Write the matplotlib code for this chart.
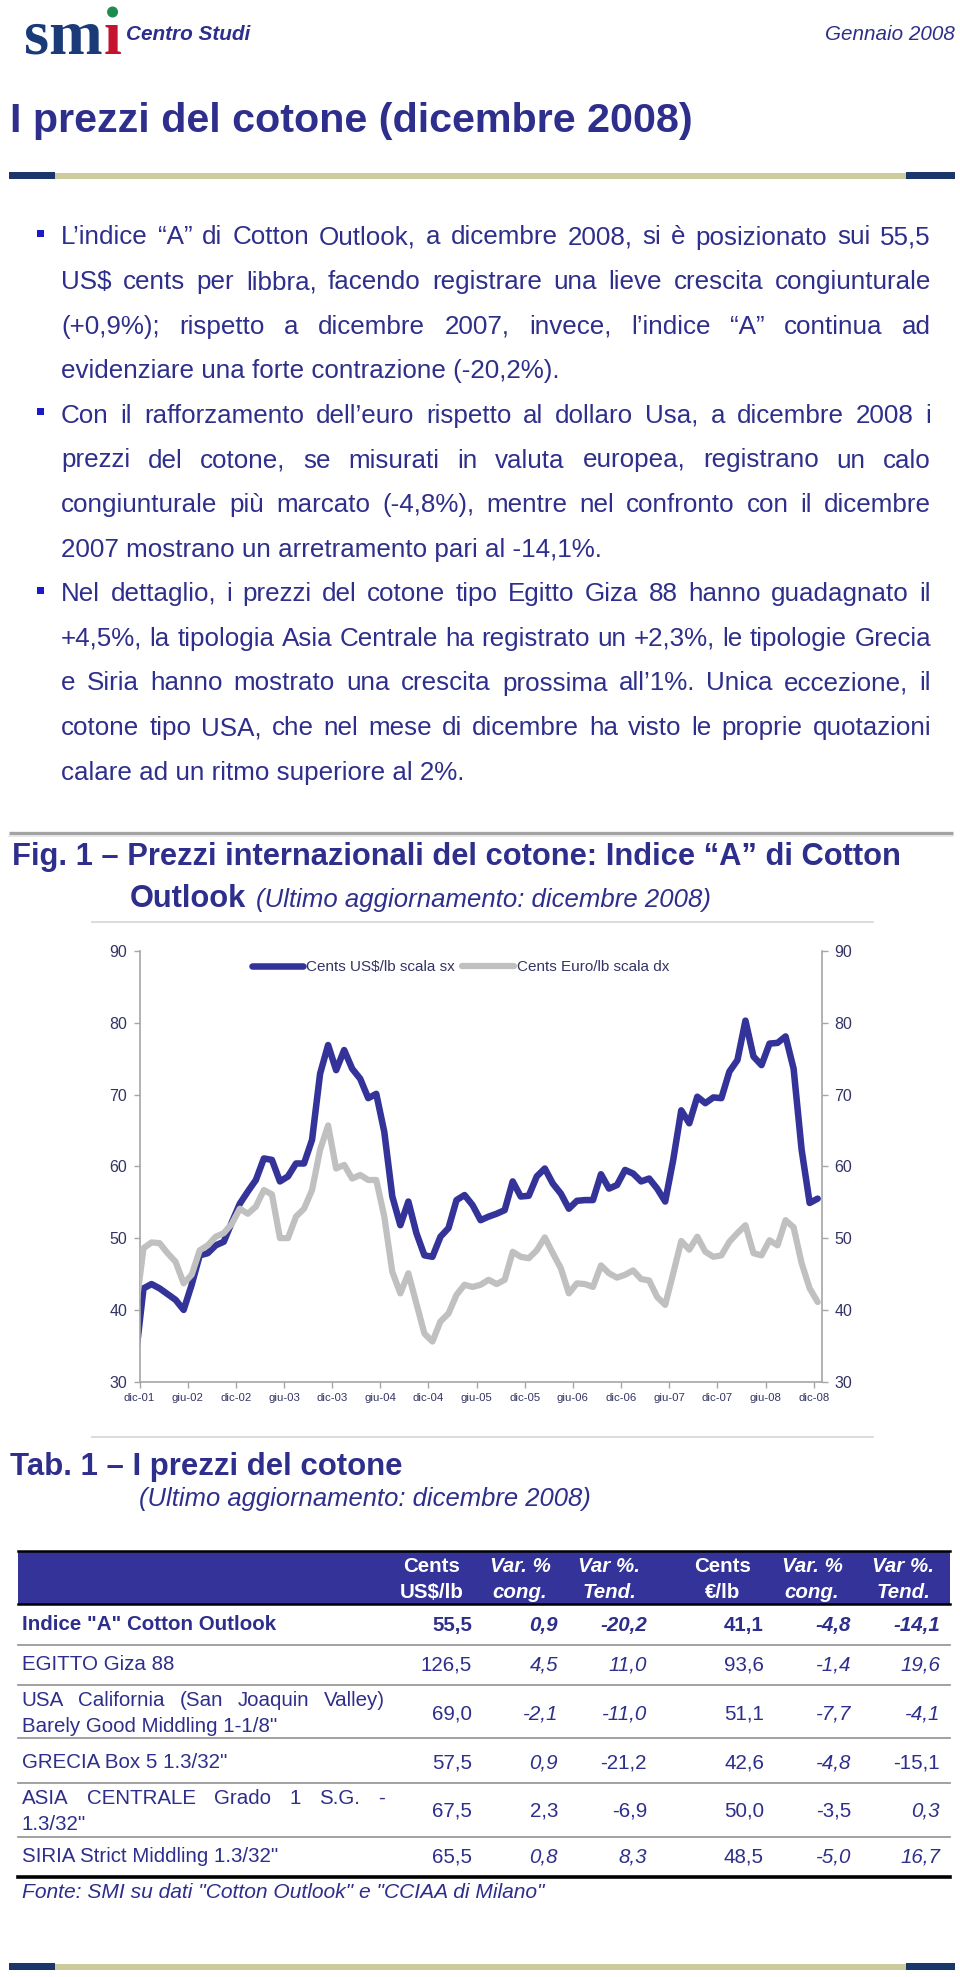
import numpy as np
import matplotlib
matplotlib.use('Agg')
import matplotlib.pyplot as plt
from matplotlib.patches import Rectangle, Circle

# ── 數據 ─────────────────────────────────────────────────────────
# Indice "A": nov-01 .. dic-08 (mensile)
usd = [33.2,
       43.0, 43.6, 43.0, 42.2, 41.4, 40.0, 43.5, 47.6, 47.9, 49.0,
       49.5, 52.2, 54.8, 56.5, 58.1, 61.1, 60.9, 57.9, 58.6, 60.4,
       60.4, 63.7, 72.9, 76.9, 73.4, 76.2, 73.6, 72.2, 69.5, 70.1,
       64.8, 55.8, 51.8, 55.1, 50.7, 47.6, 47.4, 50.2, 51.4, 55.3,
       56.0, 54.6, 52.5, 53.0, 53.4, 53.9, 57.9, 55.8, 55.9, 58.6,
       59.7, 57.6, 56.2, 54.1, 55.2, 55.3, 55.3, 58.9, 56.9, 57.4,
       59.5, 59.0, 57.9, 58.3, 56.9, 55.1, 60.9, 67.8, 66.0, 69.7,
       68.8, 69.6, 69.5, 73.2, 74.8, 80.3, 75.3, 74.1, 77.1, 77.2,
       78.1, 73.6, 62.3, 54.9, 55.5]
eur = [39.8,
       48.6, 49.4, 49.3, 47.9, 46.7, 43.7, 44.9, 48.3, 49.0, 50.2,
       50.7, 52.0, 54.1, 53.4, 54.4, 56.7, 56.1, 50.0, 50.0, 53.0,
       54.1, 56.7, 62.3, 65.7, 59.7, 60.2, 58.3, 58.8, 58.1, 58.1,
       53.0, 45.3, 42.3, 45.1, 40.9, 36.7, 35.6, 38.4, 39.5, 42.1,
       43.5, 43.2, 43.5, 44.2, 43.6, 44.2, 48.1, 47.4, 47.2, 48.3,
       50.1, 47.9, 45.8, 42.3, 43.7, 43.6, 43.2, 46.2, 45.1, 44.5,
       44.9, 45.5, 44.3, 44.1, 41.8, 40.7, 45.1, 49.6, 48.4, 50.2,
       48.1, 47.4, 47.6, 49.5, 50.7, 51.8, 47.9, 47.6, 49.7, 49.0,
       52.5, 51.5, 46.5, 43.0, 41.1]
tick_labels = ['dic-01', 'giu-02', 'dic-02', 'giu-03', 'dic-03', 'giu-04',
               'dic-04', 'giu-05', 'dic-05', 'giu-06', 'dic-06', 'giu-07',
               'dic-07', 'giu-08', 'dic-08']
y_ticks = [30, 40, 50, 60, 70, 80, 90]
series_names = ['Cents US$/lb scala sx', 'Cents Euro/lb scala dx']

# Tab. 1
row_labels = ['Indice "A" Cotton Outlook',
              'EGITTO Giza 88',
              ['USA California (San Joaquin Valley)', 'Barely Good Middling 1-1/8"'],
              'GRECIA Box 5 1.3/32"',
              ['ASIA CENTRALE Grado 1 S.G. -', '1.3/32"'],
              'SIRIA Strict Middling 1.3/32"']
usd_price = [55.5, 126.5, 69.0, 57.5, 67.5, 65.5]
usd_cong  = [0.9, 4.5, -2.1, 0.9, 2.3, 0.8]
usd_tend  = [-20.2, 11.0, -11.0, -21.2, -6.9, 8.3]
eur_price = [41.1, 93.6, 51.1, 42.6, 50.0, 48.5]
eur_cong  = [-4.8, -1.4, -7.7, -4.8, -3.5, -5.0]
eur_tend  = [-14.1, 19.6, -4.1, -15.1, 0.3, 16.7]
hdr_top = ['Cents', 'Var. %', 'Var %.', 'Cents', 'Var. %', 'Var %.']
hdr_bot = ['US$/lb', 'cong.', 'Tend.', '€/lb', 'cong.', 'Tend.']

paragraphs = [
    ['L’indice “A” di Cotton Outlook, a dicembre 2008, si è posizionato sui 55,5',
     'US$ cents per libbra, facendo registrare una lieve crescita congiunturale',
     '(+0,9%); rispetto a dicembre 2007, invece, l’indice “A” continua ad',
     'evidenziare una forte contrazione (-20,2%).'],
    ['Con il rafforzamento dell’euro rispetto al dollaro Usa, a dicembre 2008 i',
     'prezzi del cotone, se misurati in valuta europea, registrano un calo',
     'congiunturale più marcato (-4,8%), mentre nel confronto con il dicembre',
     '2007 mostrano un arretramento pari al -14,1%.'],
    ['Nel dettaglio, i prezzi del cotone tipo Egitto Giza 88 hanno guadagnato il',
     '+4,5%, la tipologia Asia Centrale ha registrato un +2,3%, le tipologie Grecia',
     'e Siria hanno mostrato una crescita prossima all’1%. Unica eccezione, il',
     'cotone tipo USA, che nel mese di dicembre ha visto le proprie quotazioni',
     'calare ad un ritmo superiore al 2%.'],
]

# ── 樣式 ─────────────────────────────────────────────────────────
W, H = 960, 1977
TXT = '#2e2e8c'
BLUE = '#333399'
GREY = '#c0c0c0'
AXC = '#333366'
SPINE = '#a6a6a6'
SANS = ['Liberation Sans', 'DejaVu Sans']
SERIF = ['Liberation Serif', 'DejaVu Serif']
plt.rcParams['font.family'] = SANS

fig = plt.figure(figsize=(W / 100, H / 100), dpi=100)
fig.patch.set_facecolor('white')
page = fig.add_axes([0, 0, 1, 1])
page.set_xlim(0, W)
page.set_ylim(H, 0)
page.axis('off')
R = fig.canvas.get_renderer()


def put(x, y, s, width=None, size=12, **kw):
    kw.setdefault('color', TXT)
    kw.setdefault('va', 'baseline')
    t = page.text(x, y, s, fontsize=size, **kw)
    if width:
        t.set_fontsize(size * width / t.get_window_extent(R).width)
    return t


def text_w(s, size, **kw):
    t = page.text(0, 0, s, fontsize=size, **kw)
    w = t.get_window_extent(R).width
    t.remove()
    return w


def justify(x0, x1, y, s, size, **kw):
    words = s.split()
    ws = [text_w(w, size, **kw) for w in words]
    gap = (x1 - x0 - sum(ws)) / (len(words) - 1)
    x = x0
    for w, wd in zip(words, ws):
        put(x, y, w, size=size, **kw)
        x += wd + gap


def bar(y):
    page.add_patch(Rectangle((55, y - 3), 851, 6, color='#cbcb9b', lw=0))
    page.add_patch(Rectangle((9, y - 3.5), 46, 7, color='#1b3668', lw=0))
    page.add_patch(Rectangle((906, y - 3.5), 49, 7, color='#1b3668', lw=0))


def fmt(v):
    return f'{v:.1f}'.replace('.', ',')


# ── 頁首 ─────────────────────────────────────────────────────────
t = put(24, 54, 'sm', width=78, family=SERIF, weight='bold', color='#1b3a78')
bb = t.get_window_extent(R)
ti = put(bb.x1 + 1, 54, 'ı', size=t.get_fontsize(), family=SERIF,
         weight='bold', color='#c4122f')
bi = ti.get_window_extent(R)
page.add_patch(Circle(((bi.x0 + bi.x1) / 2, 12), 4.8, color='#1e8c4e'))
put(126, 40, 'Centro Studi', width=124, weight='bold', style='italic')
put(955, 40, 'Gennaio 2008', width=129, style='italic', ha='right')

put(10, 132, 'I prezzi del cotone (dicembre 2008)', width=681, weight='bold')
bar(175.5)
bar(1966.5)

# ── 正文 ─────────────────────────────────────────────────────────
x0, x1 = 61, 931
just_lines = [l for p in paragraphs for l in p[:-1]]
size_p = min(10 * (x1 - x0) / text_w(l, 10) for l in just_lines)
i = 0
for p in paragraphs:
    for j, line in enumerate(p):
        y = 244.5 + 44.6 * i
        if j == 0:
            page.add_patch(Rectangle((37, y - 14.5), 7, 7, color='#1a1acc', lw=0))
        if j < len(p) - 1:
            justify(x0, x1, y, line, size_p)
        else:
            put(x0, y, line, size=size_p)
        i += 1

page.plot([9, 953], [833, 833], color='#a3a3a3', lw=2.4, solid_capstyle='butt')
page.plot([9, 953], [835.5, 835.5], color='#e4e4e4', lw=1.2)

# ── Fig. 1 ───────────────────────────────────────────────────────
tf = put(12, 865, 'Fig. 1 – Prezzi internazionali del cotone: Indice “A” di Cotton',
         width=884, weight='bold')
put(130, 907, 'Outlook', size=tf.get_fontsize(), weight='bold')
put(256, 907, '(Ultimo aggiornamento: dicembre 2008)', width=454, style='italic')
page.plot([92, 873], [922, 922], color='#d9d9d9', lw=1.3)
page.plot([92, 873], [1437, 1437], color='#d9d9d9', lw=1.3)

ax = fig.add_axes([139.5 / W, 1 - 1381.7 / H, (821.7 - 139.5) / W, (1381.7 - 951) / H])
ax2 = ax.twinx()
x = np.arange(len(usd)) - 0.5
l1, = ax.plot(x, usd, color=BLUE, lw=4.7, solid_joinstyle='round',
              solid_capstyle='round', label=series_names[0])
l2, = ax2.plot(x, eur, color=GREY, lw=4.5, solid_joinstyle='round',
               solid_capstyle='round', label=series_names[1])

for a in (ax, ax2):
    a.set_xlim(0, 85)
    a.set_ylim(30, 90)
    a.set_yticks(y_ticks)
    a.patch.set_visible(False)
    for s in a.spines.values():
        s.set_visible(False)
    a.tick_params(axis='y', length=4, width=1, color=SPINE,
                  labelsize=11.5, labelcolor=AXC, pad=5)
ax.spines['left'].set_visible(True)
ax.spines['bottom'].set_visible(True)
ax2.spines['right'].set_visible(True)
for s in (ax.spines['left'], ax.spines['bottom'], ax2.spines['right']):
    s.set_color(SPINE)
    s.set_linewidth(1.2)
ax.set_xticks(range(0, 85, 6))
ax.set_xticklabels(tick_labels)
ax.tick_params(axis='x', length=4, width=1, color=SPINE,
               labelsize=8.2, labelcolor=AXC, pad=4)

fig.legend(handles=[l1, l2], loc='center left',
           bbox_to_anchor=(252 / W, 1 - 967 / H), ncol=2, frameon=False,
           fontsize=11, handlelength=3.34, handletextpad=0.2,
           columnspacing=0.5, borderpad=0, borderaxespad=0, labelcolor=AXC)

# ── Tab. 1 ───────────────────────────────────────────────────────
put(10, 1475, 'Tab. 1 – I prezzi del cotone', width=391, weight='bold')
put(139, 1506, '(Ultimo aggiornamento: dicembre 2008)', width=450, style='italic')

page.add_patch(Rectangle((18, 1551), 932, 53, color=BLUE, lw=0))
page.plot([18, 950], [1551, 1551], color='black', lw=1.8)
page.plot([18, 950], [1604, 1604], color='black', lw=1.8)

size_t = 10 * 153 / text_w('EGITTO Giza 88', 10)
hdr_x = [432, 520, 609, 723, 812, 903]
hdr_it = [False, True, True, False, True, True]
for hx, a, b, it in zip(hdr_x, hdr_top, hdr_bot, hdr_it):
    st = 'italic' if it else 'normal'
    put(hx, 1566, a, size=size_t, ha='center', va='center', color='white',
        weight='bold', style=st)
    put(hx, 1592, b, size=size_t, ha='center', va='center', color='white',
        weight='bold', style=st)

row_y = [1625, 1665, 1714, 1763, 1811, 1857]
col_x = [472, 558, 647, 764, 851, 940]
ital = [[0, 1, 1, 0, 1, 1], [0, 1, 1, 0, 1, 1], [0, 1, 1, 0, 1, 1],
        [0, 1, 0, 0, 1, 0], [0, 0, 0, 0, 0, 1], [0, 1, 1, 0, 1, 1]]
cols = [usd_price, usd_cong, usd_tend, eur_price, eur_cong, eur_tend]
for r, (lab, ry) in enumerate(zip(row_labels, row_y)):
    wt = 'bold' if r == 0 else 'normal'
    if isinstance(lab, list):
        justify(21.5, 385, ry - 13 + 5.5, lab[0], size_t)
        put(21.5, ry + 13, lab[1], size=size_t, va='center')
    else:
        put(21.5, ry, lab, size=size_t, va='center', weight=wt)
    for c, cx in enumerate(col_x):
        put(cx, ry, fmt(cols[c][r]), size=size_t, ha='right', va='center',
            weight=wt, style='italic' if ital[r][c] else 'normal')

for sy in [1645, 1685, 1738, 1783, 1837]:
    page.plot([18, 950], [sy, sy], color='#9a9a9a', lw=1.3)
page.plot([18, 950], [1877, 1877], color='black', lw=2.6)
put(21.5, 1893, 'Fonte: SMI su dati "Cotton Outlook" e "CCIAA di Milano"',
    width=522, style='italic', va='center')

fig.savefig('out.png', dpi=100, facecolor='white')
